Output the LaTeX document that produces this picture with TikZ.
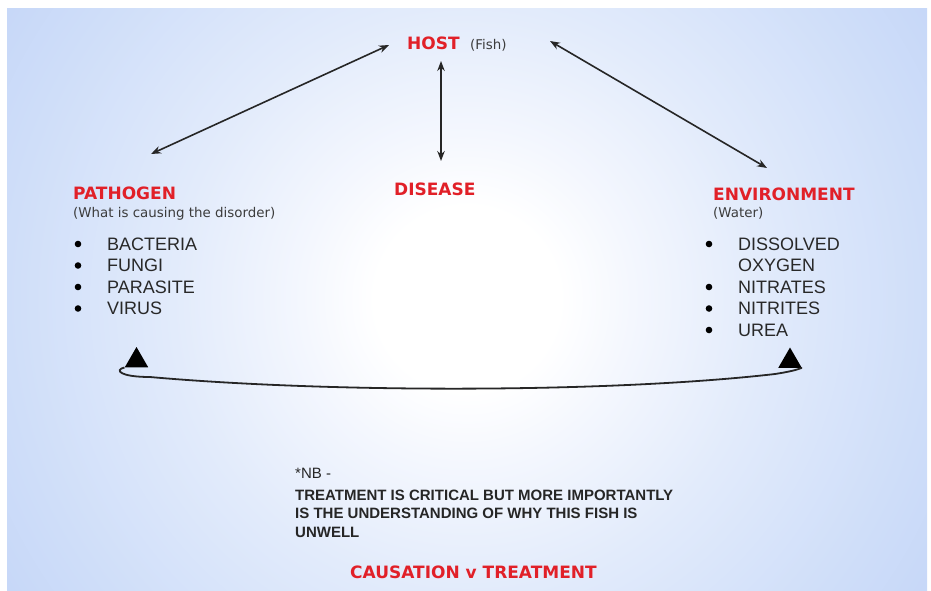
\documentclass[tikz,border=0pt]{standalone}
\usepackage{fontspec}
\setmainfont{Liberation Sans}
\newfontfamily\headfont{DejaVu Sans}
\usetikzlibrary{arrows.meta,shapes.geometric}
\definecolor{bgedge}{RGB}{207,222,249}
\definecolor{bgcorner}{RGB}{198,215,248}
\definecolor{bgmid}{RGB}{226,235,251}
\definecolor{bgin}{RGB}{244,247,254}
\definecolor{headred}{RGB}{225,32,40}
\definecolor{subgray}{RGB}{60,60,60}
\definecolor{txtgray}{RGB}{40,40,40}
\pgfdeclareradialshading{bgshade}{\pgfpoint{0bp}{0bp}}{color(0bp)=(white); color(5bp)=(white); color(9bp)=(bgin); color(16bp)=(bgmid); color(25bp)=(bgedge); color(30bp)=(bgcorner); color(50bp)=(bgcorner)}
\tikzset{
  head/.style={anchor=base west, inner sep=0pt, text=headred, font=\headfont\bfseries\fontsize{17}{20}\selectfont},
  sub/.style={anchor=base west, inner sep=0pt, text=subgray, font=\headfont\fontsize{13.4}{16}\selectfont},
  item/.style={anchor=base west, inner sep=0pt, text=txtgray, font=\fontsize{18}{21}\selectfont},
  dot/.style={circle, fill=black, inner sep=0pt, minimum size=6.6pt},
  nb/.style={anchor=base west, inner sep=0pt, text=black!85, font=\bfseries\fontsize{15}{18}\selectfont},
  arr/.style={{Stealth[length=10pt,width=7.5pt]}-{Stealth[length=10pt,width=7.5pt]}, line width=1.6pt, draw=black!85},
  tri/.style={regular polygon, regular polygon sides=3, fill=black, inner sep=0pt, minimum size=27pt},
  loopline/.style={line width=1.8pt, draw=black!85}
}
\begin{document}
\begin{tikzpicture}[x=1pt,y=-1pt]
\useasboundingbox (0,0) rectangle (931,590);
\begin{scope}
  \clip (7,8) rectangle (928,590);
  \shade[shading=bgshade] (7,-161) rectangle (927,759);
\end{scope}

% headings
\node[head] (host) at (407,49) {HOST};
\node[sub] (fish) at (470,49) {(Fish)};
\node[head] (disease) at (394,195) {DISEASE};
\node[head] (pathogen) at (73,199) {PATHOGEN};
\node[sub] (what) at (73,217) {(What is causing the disorder)};
\node[head] (env) at (713,200) {ENVIRONMENT};
\node[sub] (water) at (713,217) {(Water)};

% pathogen list
\node[item] (p1) at (107,250) {BACTERIA};
\node[item] (p2) at (107,271.5) {FUNGI};
\node[item] (p3) at (107,293) {PARASITE};
\node[item] (p4) at (107,314.5) {VIRUS};
\node[dot] (pd1) at (78,244) {};
\node[dot] (pd2) at (78,265.5) {};
\node[dot] (pd3) at (78,287) {};
\node[dot] (pd4) at (78,308.5) {};

% environment list
\node[item] (e1) at (738,250) {DISSOLVED};
\node[item] (e1b) at (738,271.5) {OXYGEN};
\node[item] (e2) at (738,293) {NITRATES};
\node[item] (e3) at (738,314.5) {NITRITES};
\node[item] (e4) at (738,336) {UREA};
\node[dot] (ed1) at (709,244) {};
\node[dot] (ed2) at (709,287) {};
\node[dot] (ed3) at (709,308.5) {};
\node[dot] (ed4) at (709,330) {};

% arrows
\coordinate (hostL) at (389,45);
\coordinate (pathT) at (151,154);
\coordinate (hostB) at (441,61);
\coordinate (disT) at (441,161);
\coordinate (hostR) at (550,41);
\coordinate (envT) at (767,168);
\draw[arr] (hostL) -- (pathT);
\draw[arr] (hostB) -- (disT);
\draw[arr] (hostR) -- (envT);

% bottom loop
\node[tri] (triL) at (136.5,360.5) {};
\node[tri] (triR) at (790,361) {};
\draw[loopline] (triL.corner 2) .. controls (114,370) and (120,377) .. (150,377)
  .. controls (330,393) and (610,393) .. (775,374)
  .. controls (801,370) and (802,367) .. (triR.corner 3);

% NB text
\node[anchor=base west, inner sep=0pt, text=black!85, font=\fontsize{15}{18}\selectfont] (nb0) at (295,478) {*NB -};
\node[nb] (nb1) at (295,500) {TREATMENT IS CRITICAL BUT MORE IMPORTANTLY};
\node[nb] (nb2) at (295,518.5) {IS THE UNDERSTANDING OF WHY THIS FISH IS};
\node[nb] (nb3) at (295,537) {UNWELL};

\node[head] (cause) at (350,578) {CAUSATION v TREATMENT};
\end{tikzpicture}
\end{document}
